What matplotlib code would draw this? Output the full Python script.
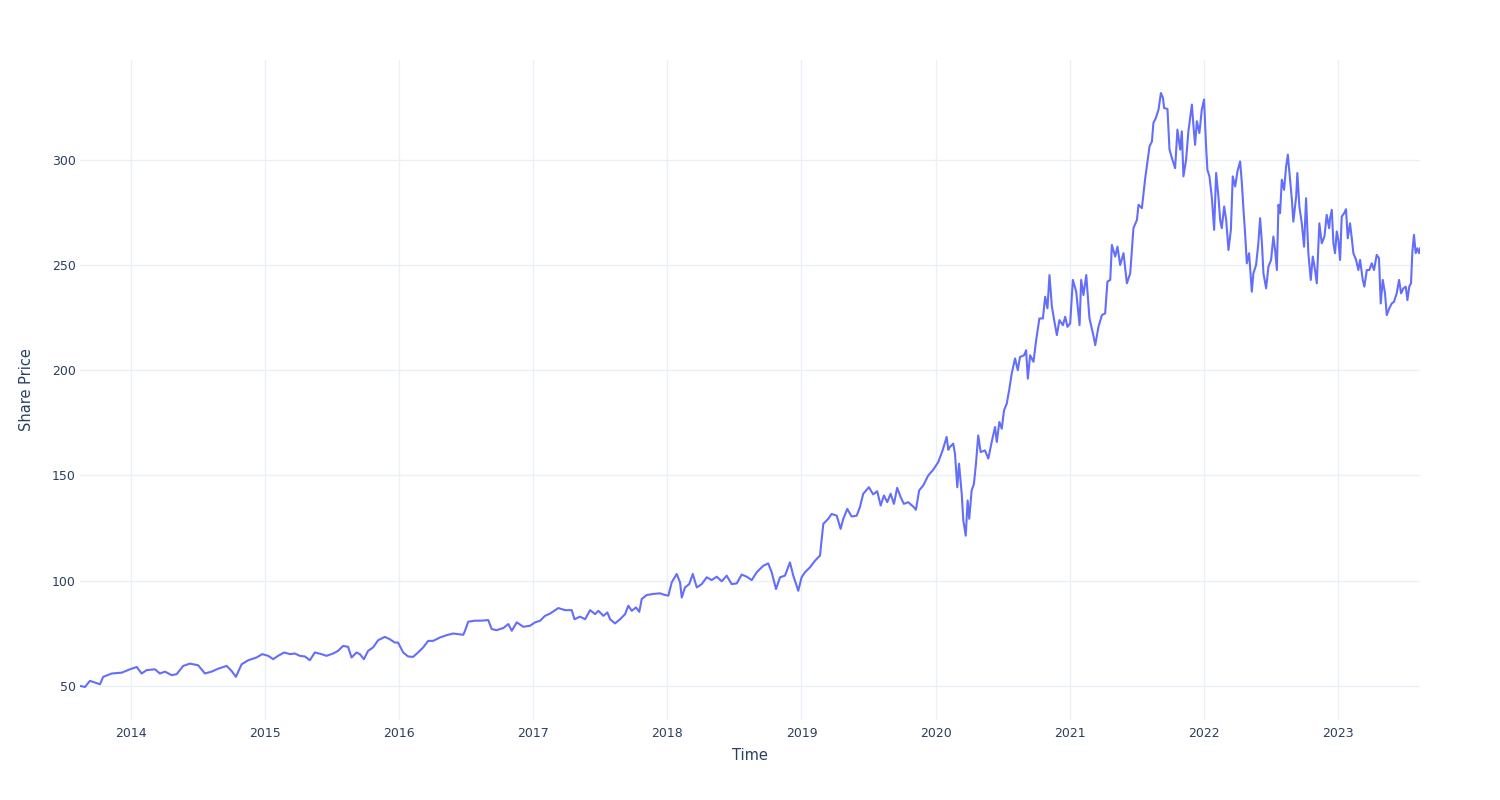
import matplotlib
matplotlib.use("Agg")
import matplotlib.pyplot as plt
import matplotlib.dates as mdates
import numpy as np
import pandas as pd

# Time as decimal years
years = [
    2013.620, 2013.657, 2013.694, 2013.732, 2013.769, 2013.793, 2013.856, 2013.931, 2013.993, 2014.043,
    2014.080, 2014.117, 2014.179, 2014.216, 2014.254, 2014.304, 2014.341, 2014.390, 2014.440, 2014.502,
    2014.552, 2014.602, 2014.651, 2014.714, 2014.751, 2014.783, 2014.826, 2014.875, 2014.937, 2014.979,
    2015.024, 2015.061, 2015.098, 2015.143,
    2015.186, 2015.223, 2015.260, 2015.298, 2015.335, 2015.372, 2015.422, 2015.459, 2015.509, 2015.546,
    2015.583, 2015.620, 2015.646, 2015.683, 2015.708, 2015.738, 2015.770, 2015.807, 2015.844, 2015.894,
    2015.931, 2015.969, 2015.993, 2016.031, 2016.068, 2016.105, 2016.142, 2016.180, 2016.217, 2016.254,
    2016.304, 2016.354, 2016.403, 2016.441, 2016.478, 2016.491, 2016.515, 2016.565, 2016.615, 2016.664,
    2016.690, 2016.727, 2016.776, 2016.814, 2016.839, 2016.876, 2016.925,
    2016.975, 2017.013, 2017.050, 2017.087, 2017.125, 2017.186, 2017.236, 2017.286, 2017.306, 2017.348,
    2017.386, 2017.423, 2017.460, 2017.485, 2017.522, 2017.552, 2017.572, 2017.609, 2017.647, 2017.684,
    2017.708, 2017.734, 2017.766, 2017.790, 2017.808, 2017.846, 2017.895, 2017.945, 2017.982, 2018.007,
    2018.032, 2018.069, 2018.094, 2018.107, 2018.131, 2018.163, 2018.189, 2018.219, 2018.256, 2018.293,
    2018.330, 2018.368, 2018.405, 2018.442, 2018.479, 2018.517, 2018.554, 2018.591, 2018.629, 2018.666,
    2018.715, 2018.752, 2018.778, 2018.810, 2018.840, 2018.877, 2018.914, 2018.939, 2018.976, 2019.001,
    2019.026, 2019.063, 2019.101, 2019.138, 2019.163, 2019.200, 2019.225, 2019.263, 2019.292, 2019.312,
    2019.342, 2019.374, 2019.412, 2019.436, 2019.461, 2019.503, 2019.535, 2019.565, 2019.591, 2019.615,
    2019.640, 2019.665, 2019.690, 2019.714, 2019.740, 2019.764, 2019.796, 2019.834, 2019.854, 2019.878,
    2019.908, 2019.946, 2019.983, 2020.020, 2020.053, 2020.083, 2020.095, 2020.107, 2020.132, 2020.145,
    2020.162, 2020.175, 2020.195, 2020.207, 2020.225, 2020.239, 2020.251, 2020.269, 2020.286, 2020.301,
    2020.318, 2020.336, 2020.368, 2020.393, 2020.418, 2020.443, 2020.456, 2020.475, 2020.493, 2020.510,
    2020.530, 2020.550, 2020.567, 2020.592, 2020.612, 2020.629, 2020.659, 2020.674, 2020.687, 2020.704,
    2020.729, 2020.749, 2020.773, 2020.799, 2020.816, 2020.833, 2020.848, 2020.866, 2020.885, 2020.903,
    2020.922, 2020.948, 2020.965, 2020.982, 2021.002, 2021.022, 2021.047, 2021.072, 2021.084, 2021.101,
    2021.122, 2021.146, 2021.172, 2021.189, 2021.213, 2021.239, 2021.263, 2021.280, 2021.301, 2021.313,
    2021.338, 2021.355, 2021.375, 2021.400, 2021.425, 2021.450, 2021.462, 2021.474, 2021.500, 2021.512,
    2021.537, 2021.549, 2021.562, 2021.574, 2021.594, 2021.612, 2021.623, 2021.641, 2021.661, 2021.679,
    2021.694, 2021.703, 2021.728, 2021.743, 2021.761, 2021.785, 2021.802, 2021.823, 2021.835, 2021.847,
    2021.867, 2021.884, 2021.910, 2021.922, 2021.934, 2021.947, 2021.966, 2021.984, 2022.001, 2022.016,
    2022.026, 2022.041, 2022.059, 2022.076, 2022.091, 2022.108, 2022.121, 2022.133, 2022.151, 2022.166,
    2022.183, 2022.201, 2022.215, 2022.233, 2022.250, 2022.270, 2022.283, 2022.295, 2022.307, 2022.320,
    2022.337, 2022.357, 2022.369, 2022.389, 2022.406, 2022.419, 2022.432, 2022.444, 2022.464, 2022.481,
    2022.501, 2022.518, 2022.531, 2022.544, 2022.556, 2022.568, 2022.581, 2022.598, 2022.613, 2022.626,
    2022.643, 2022.656, 2022.667, 2022.688, 2022.697, 2022.712, 2022.730, 2022.747, 2022.762, 2022.779,
    2022.797, 2022.812, 2022.829, 2022.842, 2022.861, 2022.879, 2022.899, 2022.916, 2022.934, 2022.941,
    2022.954, 2022.966, 2022.978, 2022.991, 2023.003, 2023.016, 2023.028, 2023.046, 2023.060, 2023.073,
    2023.090, 2023.103, 2023.115, 2023.135, 2023.152, 2023.165, 2023.185, 2023.197, 2023.215, 2023.234,
    2023.252, 2023.269, 2023.289, 2023.306, 2023.319, 2023.334, 2023.351, 2023.364, 2023.383, 2023.401,
    2023.418, 2023.438, 2023.456, 2023.471, 2023.488, 2023.506, 2023.518, 2023.532, 2023.545, 2023.555,
    2023.567, 2023.580, 2023.592, 2023.605, 2023.612,
]

price = [
    50.0, 49.5, 52.4, 51.6, 50.8, 54.3, 55.9, 56.3, 57.9, 59.0,
    55.9, 57.5, 57.9, 55.9, 56.8, 55.1, 55.6, 59.5, 60.6, 59.8,
    55.9, 56.8, 58.2, 59.5, 57.1, 54.3, 60.3, 62.2, 63.5, 65.1,
    64.3, 62.7, 64.3, 65.9,
    65.1, 65.4, 64.3, 64.0, 62.2, 65.9, 65.1, 64.3, 65.4, 66.7,
    69.0, 68.6, 63.5, 65.9, 65.1, 62.7, 66.7, 68.3, 71.7, 73.3,
    72.2, 70.6, 70.6, 65.9, 64.0, 63.8, 65.9, 68.3, 71.4, 71.4,
    73.0, 74.1, 74.9, 74.6, 74.3, 76.2, 80.5, 81.0, 81.0, 81.3,
    77.0, 76.5, 77.5, 79.4, 76.2, 80.2, 78.1,
    78.6, 80.2, 81.0, 83.3, 84.4, 87.0, 86.0, 86.0, 81.7, 82.9,
    81.7, 86.0, 84.1, 85.7, 83.3, 84.9, 81.7, 79.7, 81.7, 84.1,
    88.1, 85.7, 87.3, 85.2, 91.3, 93.2, 93.7, 94.0, 93.2, 92.9,
    99.2, 103.2, 99.2, 92.0, 96.8, 98.4, 103.2, 96.8, 98.4, 101.6,
    100.3, 101.9, 99.7, 102.4, 98.4, 98.7, 102.9, 101.9, 100.3, 104.0,
    107.1, 108.2, 104.0, 96.0, 101.6, 102.4, 108.7, 102.4, 95.2, 101.6,
    104.0, 106.3, 109.5, 111.9, 127.0, 129.4, 131.7, 130.9, 124.6, 129.4,
    134.1, 130.5, 130.9, 134.9, 141.3, 144.4, 141.0, 142.5, 135.7, 140.5,
    137.3, 141.3, 136.5, 144.1, 139.7, 136.5, 137.3, 135.2, 133.7, 142.9,
    145.2, 150.0, 152.7, 156.3, 161.9, 168.3, 162.2, 163.5, 165.1, 160.3,
    144.4, 155.6, 141.3, 128.6, 121.4, 138.1, 129.4, 142.9, 146.0, 155.6,
    169.0, 161.1, 161.9, 158.0, 165.9, 173.0, 165.9, 175.4, 172.2, 181.0,
    184.1, 191.3, 198.4, 205.6, 200.0, 206.3, 207.1, 209.5, 196.0, 207.1,
    204.0, 214.3, 224.6, 224.6, 234.9, 229.4, 245.2, 230.2, 223.0, 216.7,
    223.8, 221.4, 225.4, 220.6, 222.2, 242.9, 237.3, 221.4, 242.9, 235.7,
    245.2, 224.6, 217.5, 211.9, 220.6, 226.2, 227.0, 242.1, 242.9, 259.5,
    254.0, 258.7, 250.0, 255.6, 241.3, 246.0, 257.1, 267.5, 271.4, 278.6,
    277.0, 284.1, 291.3, 296.8, 306.3, 308.7, 317.5, 319.8, 323.8, 331.7,
    329.4, 324.6, 324.1, 304.8, 300.8, 296.0, 314.3, 304.8, 313.5, 292.1,
    300.0, 313.5, 326.2, 315.9, 307.1, 318.3, 312.7, 323.8, 328.6, 306.3,
    295.2, 292.1, 282.0, 266.7, 293.7, 282.5, 271.4, 267.5, 277.8, 271.4,
    257.1, 266.7, 292.1, 287.3, 294.4, 299.2, 288.9, 276.2, 265.1, 250.8,
    255.6, 237.3, 246.0, 250.0, 260.3, 272.2, 261.1, 246.0, 238.9, 249.2,
    252.4, 263.5, 257.1, 247.6, 278.6, 274.6, 290.5, 285.7, 296.8, 302.4,
    290.5, 281.0, 270.6, 282.5, 293.7, 277.8, 269.8, 258.7, 281.7, 255.6,
    242.9, 254.0, 247.6, 241.3, 269.8, 260.3, 263.5, 273.8, 267.5, 272.2,
    276.2, 260.3, 255.6, 265.9, 261.9, 252.4, 273.0, 274.6, 276.5, 262.7,
    269.8, 262.7, 255.6, 252.4, 247.6, 252.4, 242.9, 239.7, 247.6, 247.6,
    250.8, 247.6, 254.8, 253.2, 231.7, 242.9, 236.5, 226.2, 229.4, 231.7,
    232.5, 236.5, 242.9, 236.5, 238.9, 239.7, 233.3, 239.7, 241.3, 256.3,
    264.3, 255.6, 257.9, 255.6, 257.9,
]

x_label = "Time"
y_label = "Share Price"
y_ticks = [50, 100, 150, 200, 250, 300]
x_tick_years = list(range(2014, 2024))


def to_datetime(y):
    yr = int(np.floor(y))
    start = pd.Timestamp(year=yr, month=1, day=1)
    end = pd.Timestamp(year=yr + 1, month=1, day=1)
    return start + (end - start) * (y - yr)


dates = [to_datetime(y) for y in years]

TEXT = "#2a3f5f"
GRID = "#EBF0F8"
LINE = "#636EFA"

plt.rcParams["font.family"] = ["DejaVu Sans"]

fig = plt.figure(figsize=(15, 8), dpi=100)
ax = fig.add_axes([80 / 1500, 80 / 800, 1340 / 1500, 660 / 800])
ax.set_facecolor("white")

ax.plot(dates, price, color=LINE, linewidth=1.5, solid_joinstyle="round")

ax.set_xlim(dates[0], dates[-1])
ymin, ymax = min(price), max(price)
pad = (ymax - ymin) * 0.0556
ax.set_ylim(ymin - pad, ymax + pad)

ax.set_yticks(y_ticks)
ax.set_xticks([pd.Timestamp(year=y, month=1, day=1) for y in x_tick_years])
ax.xaxis.set_major_formatter(mdates.DateFormatter("%Y"))

ax.grid(True, color=GRID, linewidth=1)
ax.set_axisbelow(True)
for s in ax.spines.values():
    s.set_visible(False)
ax.tick_params(axis="both", length=0, labelsize=9, labelcolor=TEXT)
ax.tick_params(axis="y", pad=3)
ax.tick_params(axis="x", pad=5)

fig.text(750 / 1500, 1 - 756 / 800, x_label, ha="center", va="center",
         fontsize=10.5, color=TEXT)
fig.text(27 / 1500, 1 - 390 / 800, y_label, ha="center", va="center",
         rotation=90, fontsize=10.5, color=TEXT)

fig.savefig("out.png", dpi=100, facecolor="white")
